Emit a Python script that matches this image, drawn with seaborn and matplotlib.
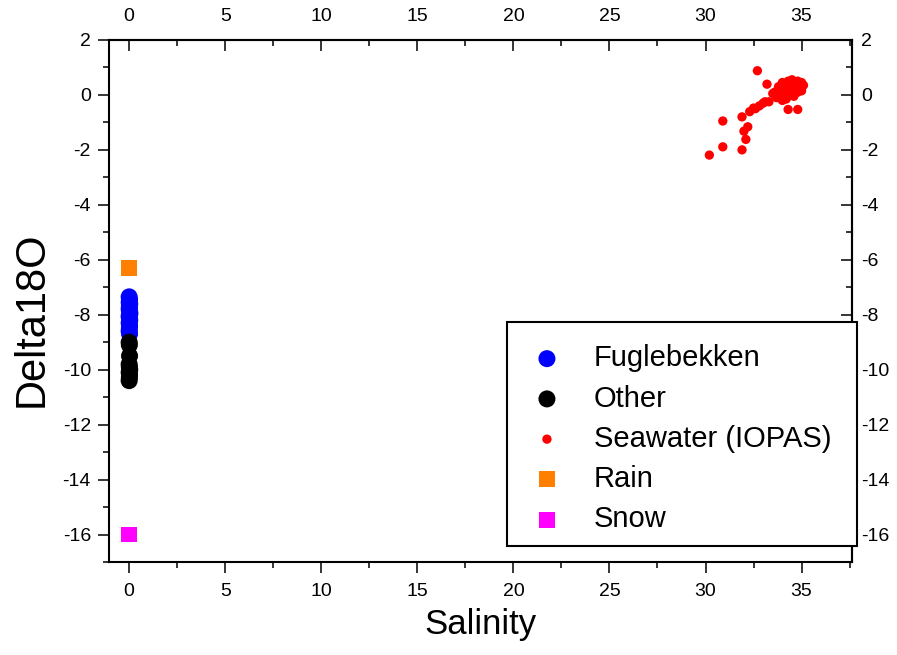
import numpy as np
import pandas as pd
import matplotlib
matplotlib.use("Agg")
import matplotlib.pyplot as plt
import seaborn as sns
from matplotlib.ticker import MultipleLocator
from matplotlib.patches import Rectangle

sns.set_style("ticks")
plt.rcParams["font.family"] = ["Liberation Sans", "DejaVu Sans"]
plt.rcParams["axes.unicode_minus"] = False
plt.rcParams["text.color"] = "black"
plt.rcParams["axes.labelcolor"] = "black"
plt.rcParams["xtick.color"] = "black"
plt.rcParams["ytick.color"] = "black"

# ---- data ----
fugle_sal = [0.0, 0.02, 0.0, 0.03, 0.01, 0.0, 0.02, 0.04, 0.0, 0.01, 0.03, 0.0, 0.02, 0.01, 0.0, 0.02]
fugle_d18o = [-7.35, -7.45, -7.55, -7.6, -7.7, -7.8, -7.85, -7.95, -8.05, -8.1, -8.2, -8.3, -8.4, -8.5, -8.6, -8.7]

other_sal = [0.0, 0.01, 0.02, 0.0, 0.01, 0.03, 0.0, 0.02, 0.01, 0.0]
other_d18o = [-9.0, -9.1, -9.5, -9.8, -9.9, -10.0, -10.1, -10.2, -10.3, -10.4]

sea_sal = [32.7, 33.2, 33.1, 32.5, 32.3, 34.3, 34.8, 30.9, 31.9, 32.2, 32.0, 32.1, 30.9, 31.9, 30.2,
           33.6, 33.8, 33.9, 34.0, 34.0, 34.1, 34.2, 34.2, 34.3, 34.4, 34.4, 34.5, 34.5, 34.6, 34.6,
           34.7, 34.8, 34.8, 34.9, 35.0, 35.1, 35.0, 33.7, 34.0, 34.3, 33.5, 33.3, 33.0, 32.8, 32.6]
sea_d18o = [0.88, 0.39, -0.25, -0.48, -0.61, -0.53, -0.53, -0.95, -0.8, -1.16, -1.32, -1.62, -1.89, -2.0, -2.19,
            0.1, 0.3, -0.05, 0.2, 0.45, 0.0, 0.35, -0.15, 0.15, 0.45, 0.0, 0.3, 0.55, 0.2, -0.05,
            0.4, 0.5, 0.1, 0.3, 0.45, 0.35, 0.15, -0.1, -0.2, 0.5, 0.05, -0.25, -0.3, -0.4, -0.5]

rain_sal = [0.0]
rain_d18o = [-6.3]

snow_sal = [0.0]
snow_d18o = [-16.0]

groups = ["Fuglebekken", "Other", "Seawater (IOPAS)", "Rain", "Snow"]
colors = ["#0000FF", "#000000", "#FF0000", "#FF7F00", "#FF00FF"]
markers = ["o", "o", "o", "s", "s"]
sizes = [150, 150, 45, 130, 130]

data = {
    "Fuglebekken": (fugle_sal, fugle_d18o),
    "Other": (other_sal, other_d18o),
    "Seawater (IOPAS)": (sea_sal, sea_d18o),
    "Rain": (rain_sal, rain_d18o),
    "Snow": (snow_sal, snow_d18o),
}

fig = plt.figure(figsize=(8.97, 6.55), dpi=100)
ax = fig.add_axes([0.1215, 0.142, 0.8278, 0.797])

for g, c, m, s in zip(groups, colors, markers, sizes):
    xs, ys = data[g]
    df = pd.DataFrame({"Salinity": xs, "Delta18O": ys})
    sns.scatterplot(data=df, x="Salinity", y="Delta18O", ax=ax, color=c, marker=m,
                    s=s, edgecolor="none", linewidth=0, label=g, zorder=3)

ax.set_xlim(-1.05, 37.6)
ax.set_ylim(-17, 2)
ax.xaxis.set_major_locator(MultipleLocator(5))
ax.xaxis.set_minor_locator(MultipleLocator(2.5))
ax.yaxis.set_major_locator(MultipleLocator(2))
ax.yaxis.set_minor_locator(MultipleLocator(1))

for sp in ax.spines.values():
    sp.set_linewidth(1.5)
    sp.set_color("black")

ax.tick_params(axis="both", which="major", direction="out", length=8, width=1.1,
               labelsize=14, colors="black")
ax.tick_params(axis="both", which="minor", direction="out", length=4.3, width=1.1)
ax.tick_params(axis="x", pad=7)
ax.tick_params(axis="y", pad=5)

secx = ax.secondary_xaxis("top")
secx.xaxis.set_major_locator(MultipleLocator(5))
secx.xaxis.set_minor_locator(MultipleLocator(2.5))
secx.tick_params(axis="x", which="major", direction="in", length=8, width=1.1, labelsize=14, pad=11)
secx.tick_params(axis="x", which="minor", direction="in", length=4.3, width=1.1)
secx.spines["top"].set_linewidth(1.5)

secy = ax.secondary_yaxis("right")
secy.yaxis.set_major_locator(MultipleLocator(2))
secy.yaxis.set_minor_locator(MultipleLocator(1))
secy.tick_params(axis="y", which="major", direction="in", length=8, width=1.1, labelsize=14, pad=7)
secy.tick_params(axis="y", which="minor", direction="in", length=4.3, width=1.1)
secy.spines["right"].set_linewidth(1.5)

ax.set_xlabel("Salinity", fontsize=25, labelpad=6)
ax.set_ylabel("Delta18O", fontsize=30)
ax.yaxis.set_label_coords(-0.077, 0.465)

# legend box (frame drawn as a patch so it can reach past the right spine)
box = Rectangle((0.536, 0.0307), 0.4714, 0.4291, transform=ax.transAxes,
                facecolor="white", edgecolor="black", linewidth=1.5,
                clip_on=False, zorder=9)
ax.add_patch(box)

leg = ax.legend(loc="upper left", bbox_to_anchor=(0.536, 0.46), fontsize=21,
                frameon=False, borderpad=0.77, labelspacing=0.42, handletextpad=1.0,
                borderaxespad=0, handlelength=1.2, markerscale=1.0)
leg.set_zorder(10)

fig.savefig("out.png", dpi=100)
